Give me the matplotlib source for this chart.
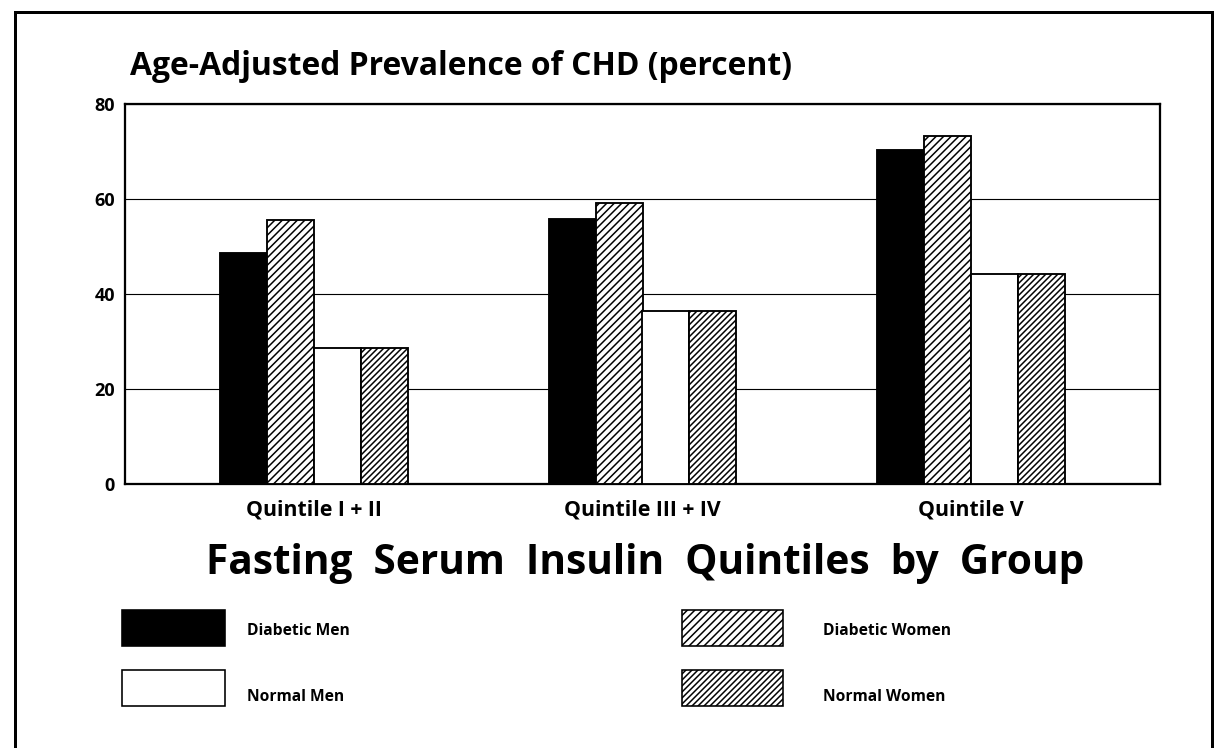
import matplotlib
matplotlib.use("Agg")
import matplotlib.pyplot as plt
from matplotlib.patches import Rectangle
from matplotlib.lines import Line2D
import numpy as np

# ---- data ----
categories = ["Quintile I + II", "Quintile III + IV", "Quintile V"]
series_names = ["Diabetic Men", "Diabetic Women", "Normal Men", "Normal Women"]
diabetic_men = [48.6, 55.8, 70.3]
diabetic_women = [55.6, 59.2, 73.3]
normal_men = [28.7, 36.4, 44.2]
normal_women = [28.7, 36.4, 44.3]
yticks = [0, 20, 40, 60, 80]

title = "Age-Adjusted Prevalence of CHD (percent)"
xlabel = "Fasting  Serum  Insulin  Quintiles  by  Group"

# ---- style ----
W, H, DPI = 1215, 748, 90
plt.rcParams['font.family'] = ['Open Sans', 'DejaVu Sans']
plt.rcParams['hatch.linewidth'] = 1.2
plt.rcParams['hatch.color'] = 'black'

fills = ['black', 'white', 'white', 'white']
hatches = [None, '////', None, '/////']
series_vals = [diabetic_men, diabetic_women, normal_men, normal_women]

fig = plt.figure(figsize=(W / DPI, H / DPI), dpi=DPI)
ax = fig.add_axes([125 / W, 1 - 484 / H, (1160 - 125) / W, (484 - 104) / H])

x = np.arange(len(categories))
bw = 0.143
offsets = (np.arange(4) - 1.5) * bw
for vals, off, fc, ht in zip(series_vals, offsets, fills, hatches):
    ax.bar(x + off, vals, width=bw, color=fc, edgecolor='black',
           linewidth=1.5, hatch=ht, zorder=3)

ax.set_xlim(-0.575, 2.575)
ax.set_ylim(0, 80)
ax.set_yticks(yticks)
ax.set_yticklabels([str(v) for v in yticks], fontsize=14.5, fontweight='bold')
ax.set_xticks(x)
ax.set_xticklabels(categories, fontsize=17, fontweight='bold')
ax.tick_params(axis='both', length=0)
ax.tick_params(axis='y', pad=8)
ax.tick_params(axis='x', pad=12)
ax.yaxis.grid(True, color='black', linewidth=0.9)
ax.set_axisbelow(True)
for s in ax.spines.values():
    s.set_linewidth(1.8)

fig.text(130 / W, 1 - 75 / H, title, fontsize=25.5, fontweight='bold',
         ha='left', va='baseline')
fig.text(645 / W, 1 - 563 / H, xlabel, fontsize=32.5, fontweight='bold',
         ha='center', va='center')

# legend
leg_boxes = [(122, 610, 103, 36), (682, 610, 101, 36), (122, 670, 103, 36), (682, 670, 101, 36)]
leg_text = [(247, 631), (823, 631), (247, 697), (823, 697)]
for i in range(4):
    bx, by, bwid, bht = leg_boxes[i]
    r = Rectangle((bx / W, 1 - (by + bht) / H), bwid / W, bht / H,
                  transform=fig.transFigure, facecolor=fills[i],
                  edgecolor='black', linewidth=1.3, hatch=hatches[i])
    fig.add_artist(r)
    tx, ty = leg_text[i]
    fig.text(tx / W, 1 - ty / H, series_names[i], fontsize=12.5,
             fontweight='bold', ha='left', va='center')

# outer frame (left, top, right)
fl = dict(color='black', linewidth=2.4, transform=fig.transFigure)
fig.add_artist(Line2D([15 / W, 15 / W], [0, 1 - 12 / H], **fl))
fig.add_artist(Line2D([15 / W, 1212 / W], [1 - 12 / H, 1 - 12 / H], **fl))
fig.add_artist(Line2D([1212 / W, 1212 / W], [1 - 12 / H, 0], **fl))

fig.savefig("out.png", dpi=DPI, facecolor='white')
